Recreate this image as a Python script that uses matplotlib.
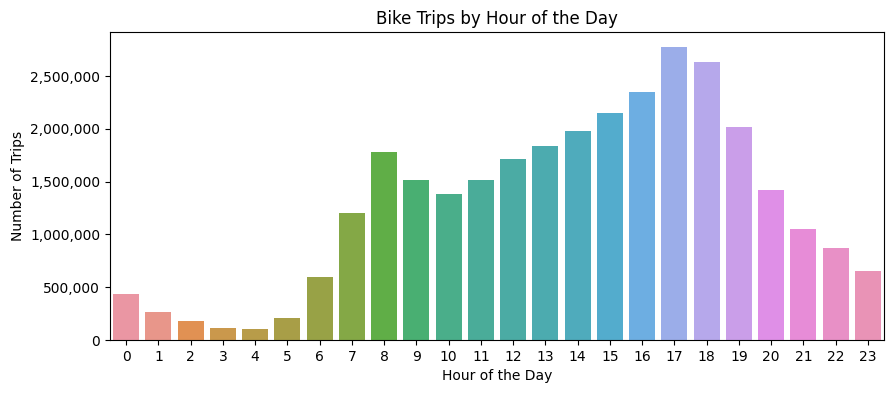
import numpy as np
import matplotlib
matplotlib.use("Agg")
import matplotlib.pyplot as plt
import matplotlib.ticker as mticker
import seaborn as sns

# Trips per hour of day
hours = list(range(24))
trips = [436000, 270000, 180000, 114000, 104000, 208000, 597000, 1200000,
         1780000, 1515000, 1383000, 1515000, 1720000, 1837000, 1985000, 2150000,
         2355000, 2780000, 2630000, 2015000, 1420000, 1050000, 870000, 650000]

fig = plt.figure(figsize=(8.94, 3.93), dpi=100)
ax = fig.add_axes([110 / 894, 1 - 340 / 393, (884 - 110) / 894, (340 - 32) / 393])

colors = sns.husl_palette(len(hours), l=0.7)
sns.barplot(x=hours, y=trips, hue=hours, palette=colors, legend=False,
            saturation=0.75, ax=ax)

ax.yaxis.set_major_formatter(mticker.FuncFormatter(lambda v, p: f"{int(v):,}"))
ax.set_title("Bike Trips by Hour of the Day")
ax.set_xlabel("Hour of the Day")
ax.set_ylabel("Number of Trips")

fig.savefig("out.png", dpi=100)
